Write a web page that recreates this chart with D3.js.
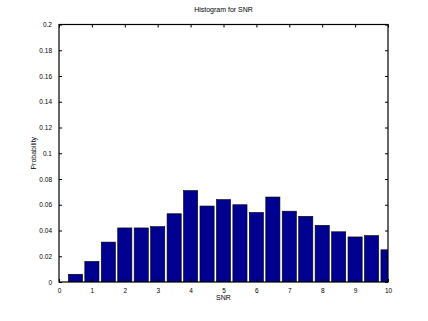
<!DOCTYPE html>
<html>
<head>
<meta charset="utf-8">
<script src="https://cdn.jsdelivr.net/npm/d3@7"></script>
<style>
  body { margin: 0; background: #fff; }
  svg { display: block; }
  text { font-family: "Liberation Sans", Arial, sans-serif; }
</style>
</head>
<body>
<svg id="svg1"></svg>
<script>
const width = 428;
const height = 321;

// histogram bin centres and probabilities
const binCenters = [0.5, 1, 1.5, 2, 2.5, 3, 3.5, 4, 4.5, 5, 5.5, 6, 6.5, 7, 7.5, 8, 8.5, 9, 9.5, 10];
const probs = [0.006, 0.016, 0.031, 0.042, 0.042, 0.043, 0.053, 0.071, 0.059, 0.064,
               0.060, 0.054, 0.066, 0.055, 0.051, 0.044, 0.039, 0.035, 0.036, 0.025];
const xTicks = [0, 1, 2, 3, 4, 5, 6, 7, 8, 9, 10];
const yTicks = [0, 0.02, 0.04, 0.06, 0.08, 0.1, 0.12, 0.14, 0.16, 0.18, 0.2];
const title = "Histogram for SNR";
const xLabel = "SNR";
const yLabel = "Probability";

const margin = {top: 24.5, right: 40, bottom: 39, left: 59};
const svg = d3.select("#svg1")
  .attr("width", width)
  .attr("height", height);

const x = d3.scaleLinear().domain([0, 10]).range([margin.left, width - margin.right]);
const y = d3.scaleLinear().domain([0, 0.2]).range([height - margin.bottom, margin.top]);

svg.append("clipPath").attr("id", "clip")
  .append("rect")
  .attr("x", x(0)).attr("y", y(0.2))
  .attr("width", x(10) - x(0)).attr("height", y(0) - y(0.2));

const barW = (x(0.5) - x(0)) * 0.86;
svg.append("g").attr("clip-path", "url(#clip)")
  .selectAll("rect")
  .data(binCenters)
  .join("rect")
  .attr("x", (d) => x(d) - barW / 2)
  .attr("y", (d, i) => y(probs[i]))
  .attr("width", barW)
  .attr("height", (d, i) => y(0) - y(probs[i]))
  .style("fill", "#000090")
  .style("stroke", "#000")
  .style("stroke-width", 0.6);

// axes with inward ticks, MATLAB style box
const fmt = (d) => d === 0 ? "0" : d3.format("~g")(d);
const axisStyle = (g) => {
  g.select(".domain").remove();
  g.selectAll(".tick line").style("stroke", "#000");
  g.selectAll(".tick text").style("font-size", "6.5px").style("fill", "#000");
};
svg.append("g")
  .attr("transform", `translate(0,${y(0)})`)
  .call(d3.axisBottom(x).tickValues(xTicks).tickFormat(fmt).tickSizeInner(-3).tickSizeOuter(0).tickPadding(6))
  .call(axisStyle);
svg.append("g")
  .attr("transform", `translate(0,${y(0.2)})`)
  .call(d3.axisTop(x).tickValues(xTicks).tickFormat("").tickSizeInner(-3).tickSizeOuter(0))
  .call(axisStyle);
svg.append("g")
  .attr("transform", `translate(${x(0)},0)`)
  .call(d3.axisLeft(y).tickValues(yTicks).tickFormat(fmt).tickSizeInner(-3).tickSizeOuter(0).tickPadding(7))
  .call(axisStyle);
svg.append("g")
  .attr("transform", `translate(${x(10)},0)`)
  .call(d3.axisRight(y).tickValues(yTicks).tickFormat("").tickSizeInner(-3).tickSizeOuter(0))
  .call(axisStyle);

svg.append("rect")
  .attr("x", x(0)).attr("y", y(0.2))
  .attr("width", x(10) - x(0)).attr("height", y(0) - y(0.2))
  .style("fill", "none").style("stroke", "#000").style("stroke-width", 1.2);

svg.append("text")
  .attr("x", (x(0) + x(10)) / 2).attr("y", 12)
  .attr("text-anchor", "middle")
  .attr("font-size", "7px")
  .text(title);
svg.append("text")
  .attr("x", (x(0) + x(10)) / 2).attr("y", 300)
  .attr("text-anchor", "middle")
  .attr("font-size", "7px")
  .text(xLabel);
svg.append("text")
  .attr("transform", `translate(36,${(y(0) + y(0.2)) / 2}) rotate(-90)`)
  .attr("text-anchor", "middle")
  .attr("font-size", "7px")
  .text(yLabel);
</script>
</body>
</html>
